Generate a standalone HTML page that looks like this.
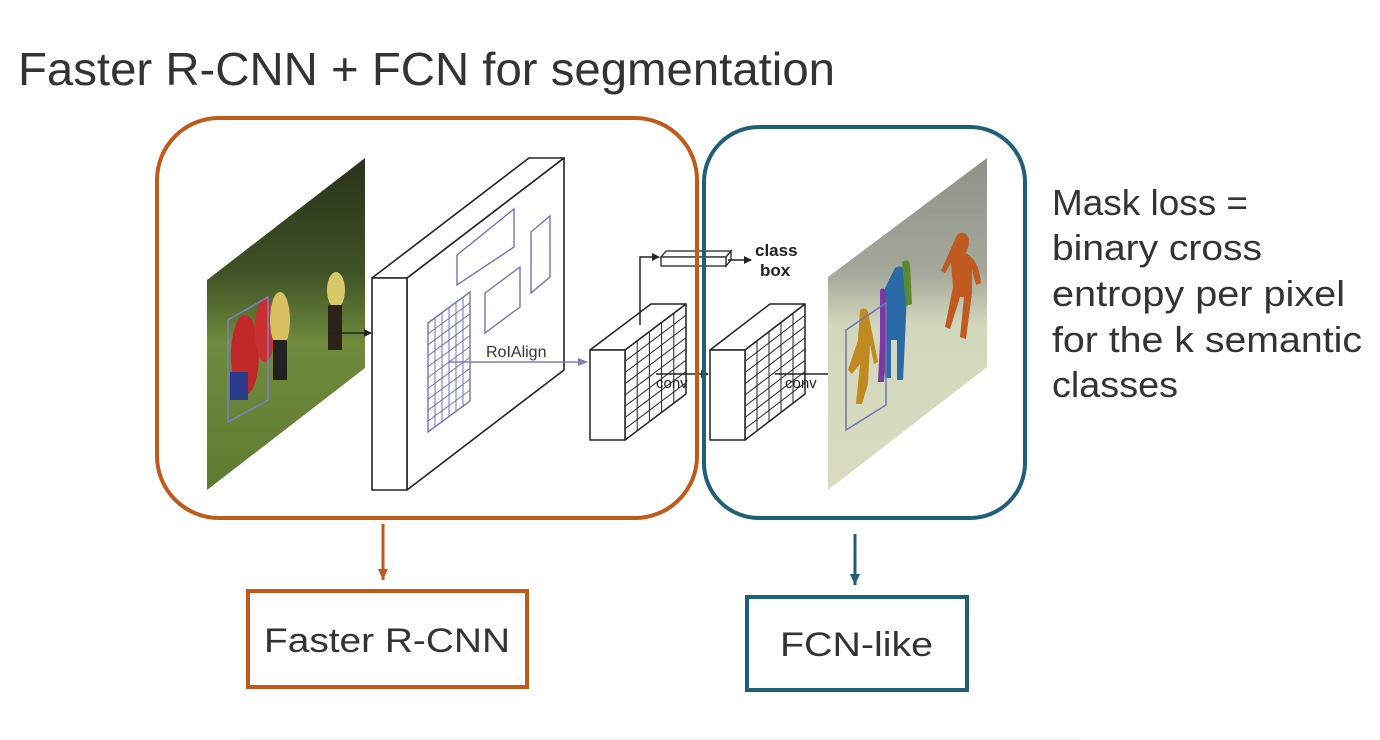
<!DOCTYPE html>
<html><head><meta charset="utf-8"><style>
html,body{margin:0;padding:0;background:#fff;}
svg{display:block;}
text{font-family:"Liberation Sans",sans-serif;}
</style></head><body>
<svg width="1380" height="740" viewBox="0 0 1380 740" xmlns="http://www.w3.org/2000/svg">
<defs>
<linearGradient id="g1" x1="0" y1="0" x2="0" y2="1">
<stop offset="0" stop-color="#27301a"/><stop offset="0.35" stop-color="#3f5226"/><stop offset="0.55" stop-color="#6f8a3c"/><stop offset="1" stop-color="#5e7a30"/></linearGradient>
<linearGradient id="g2" x1="0" y1="0" x2="0" y2="1">
<stop offset="0" stop-color="#8e9088"/><stop offset="0.35" stop-color="#a4a89a"/><stop offset="0.5" stop-color="#d2d8bc"/><stop offset="1" stop-color="#d9dcc0"/></linearGradient>
<clipPath id="c1"><polygon points="207,280 365,158 365,368 207,490"/></clipPath>
<clipPath id="c2"><polygon points="828,277 987,158 987,367 828,490"/></clipPath>
<marker id="ab" markerWidth="8" markerHeight="8" refX="7" refY="4" orient="auto" markerUnits="userSpaceOnUse"><path d="M0,0 L8,4 L0,8 z" fill="#222"/></marker>
<marker id="ap" markerWidth="10" markerHeight="10" refX="9" refY="5" orient="auto" markerUnits="userSpaceOnUse"><path d="M0,1 L10,5 L0,9 z" fill="#7a7fb8"/></marker>
<marker id="ao" markerWidth="12" markerHeight="12" refX="11" refY="6" orient="auto" markerUnits="userSpaceOnUse"><path d="M0,1 L11,6 L0,11 z" fill="#c0591a"/></marker>
<marker id="at" markerWidth="12" markerHeight="12" refX="11" refY="6" orient="auto" markerUnits="userSpaceOnUse"><path d="M0,1 L11,6 L0,11 z" fill="#1f5f78"/></marker>
</defs>

<text x="18" y="85" font-size="46" textLength="817" lengthAdjust="spacingAndGlyphs" fill="#333">Faster R-CNN + FCN for segmentation</text>

<g clip-path="url(#c1)">
<rect x="200" y="150" width="170" height="350" fill="url(#g1)"/>
<ellipse cx="245" cy="355" rx="14" ry="40" fill="#c0282a"/>
<ellipse cx="265" cy="330" rx="10" ry="32" fill="#c83030"/>
<ellipse cx="280" cy="320" rx="10" ry="28" fill="#d8c060"/>
<rect x="273" y="340" width="14" height="40" fill="#222"/>
<ellipse cx="336" cy="290" rx="9" ry="18" fill="#d8c868"/>
<rect x="328" y="305" width="14" height="45" fill="#2a2418"/>
<rect x="230" y="372" width="18" height="28" fill="#2a3a8a"/>
<polygon points="228,320 268,297 268,400 228,422" fill="none" stroke="#7a7fc8" stroke-width="1.5"/>
</g>
<line x1="328" y1="333" x2="371" y2="333" stroke="#222" stroke-width="1.5" marker-end="url(#ab)"/>

<g fill="#fff" stroke="#222" stroke-width="1.6" stroke-linejoin="round">
<polygon points="407,278 564,158 564,370 407,490"/>
<polygon points="372,278 407,278 564,158 529,158"/>
<rect x="372" y="278" width="35" height="212"/>
</g>
<g fill="none" stroke="#6f74b8" stroke-width="1.4">
<polygon points="457,255 514,209 514,247 457,285"/>
<polygon points="485,293 520,267 520,307 485,333"/>
<polygon points="531,232 550,216 550,277 531,293"/>
</g>
<g transform="matrix(42,-31,0,109,428,323)" stroke="#6f74b8" fill="none">
<rect x="0" y="0" width="1" height="1" vector-effect="non-scaling-stroke" stroke-width="1.4"/>
<path vector-effect="non-scaling-stroke" stroke-width="1" d="M0.1667,0V1M0.3333,0V1M0.5,0V1M0.6667,0V1M0.8333,0V1M0,0.1H1M0,0.2H1M0,0.3H1M0,0.4H1M0,0.5H1M0,0.6H1M0,0.7H1M0,0.8H1M0,0.9H1"/>
</g>
<line x1="449" y1="362" x2="587" y2="362" stroke="#7a7fb8" stroke-width="1.5" marker-end="url(#ap)"/>
<text x="486" y="357" font-size="16" fill="#333">RoIAlign</text>

<g fill="#fff" stroke="#222" stroke-width="1.5" stroke-linejoin="round">
<polygon points="625,350 686,304 686,394 625,440"/>
<polygon points="590,350 625,350 686,304 651,304"/>
<rect x="590" y="350" width="35" height="90"/>
</g>
<g transform="matrix(61,-46,0,90,625,350)" fill="none" stroke="#222">
<path vector-effect="non-scaling-stroke" stroke-width="1" d="M0.2,0V1M0.4,0V1M0.6,0V1M0.8,0V1M0,0.125H1M0,0.25H1M0,0.375H1M0,0.5H1M0,0.625H1M0,0.75H1M0,0.875H1"/>
</g>
<g fill="#fff" stroke="#222" stroke-width="1.5" stroke-linejoin="round">
<polygon points="745,350 805,304 805,394 745,440"/>
<polygon points="710,350 745,350 805,304 770,304"/>
<rect x="710" y="350" width="35" height="90"/>
</g>
<g transform="matrix(60,-46,0,90,745,350)" fill="none" stroke="#222">
<path vector-effect="non-scaling-stroke" stroke-width="1" d="M0.2,0V1M0.4,0V1M0.6,0V1M0.8,0V1M0,0.125H1M0,0.25H1M0,0.375H1M0,0.5H1M0,0.625H1M0,0.75H1M0,0.875H1"/>
</g>

<polyline points="640,325 640,257 659,257" fill="none" stroke="#222" stroke-width="1.5" marker-end="url(#ab)"/>
<g fill="#fff" stroke="#222" stroke-width="1.3">
<polygon points="661,257 666,251 731,251 726,257"/>
<polygon points="726,257 731,251 731,260 726,266"/>
<rect x="661" y="257" width="65" height="9"/>
</g>
<line x1="728" y1="260" x2="751" y2="260" stroke="#222" stroke-width="1.5" marker-end="url(#ab)"/>
<text x="755" y="256" font-size="17" font-weight="bold" fill="#222">class</text>
<text x="760" y="276" font-size="17" font-weight="bold" fill="#222">box</text>

<line x1="656" y1="374" x2="708" y2="374" stroke="#222" stroke-width="1.5" marker-end="url(#ab)"/>
<text x="656" y="388" font-size="15" fill="#222">conv</text>
<line x1="775" y1="374" x2="844" y2="374" stroke="#222" stroke-width="1.5" marker-end="url(#ab)"/>
<text x="785" y="388" font-size="15" fill="#222">conv</text>

<g clip-path="url(#c2)">
<rect x="820" y="150" width="175" height="350" fill="url(#g2)"/>
<path d="M957,235 q8,-6 12,4 q0,10 -4,14 q14,6 16,30 l-5,2 l-4,-16 l0,24 l-6,46 l-6,-2 l4,-40 l-4,0 l-10,32 l-5,-2 l8,-40 l-2,-24 l-6,10 l-4,-2 z" fill="#c05a20"/>
<path d="M895,268 q6,-4 10,2 l2,20 l-2,50 l-2,40 l-6,0 l0,-40 l-6,0 l0,38 l-6,0 l-2,-60 l2,-30 z" fill="#2a6aa8"/>
<path d="M902,262 q6,-4 8,2 l2,40 l-6,2 z" fill="#5a8a30"/>
<path d="M880,290 q4,-4 6,2 l2,40 l-4,50 l-6,0 l2,-40 z" fill="#7a3aa0"/>
<path d="M860,310 q5,-4 8,2 l4,20 l6,30 l-4,2 l-4,-20 l-2,40 l-6,20 l-6,0 l4,-40 l-8,10 l-4,-4 l10,-30 z" fill="#c08a20"/>
<polygon points="846,330 886,303 886,405 846,430" fill="none" stroke="#6f74b8" stroke-width="1.5"/>
</g>

<rect x="157" y="118" width="540" height="400" rx="62" fill="none" stroke="#c0591a" stroke-width="4"/>
<rect x="704" y="127" width="321" height="391" rx="55" fill="none" stroke="#1f5f78" stroke-width="4"/>

<line x1="383" y1="524" x2="383" y2="580" stroke="#c0591a" stroke-width="3" marker-end="url(#ao)"/>
<rect x="248" y="591" width="279" height="96" fill="none" stroke="#c0591a" stroke-width="4"/>
<text x="264" y="652" font-size="34" textLength="246" lengthAdjust="spacingAndGlyphs" fill="#333">Faster R-CNN</text>

<line x1="855" y1="534" x2="855" y2="585" stroke="#1f5f78" stroke-width="3" marker-end="url(#at)"/>
<rect x="747" y="597" width="220" height="93" fill="none" stroke="#1f5f78" stroke-width="4"/>
<text x="780" y="656" font-size="34" textLength="153" lengthAdjust="spacingAndGlyphs" fill="#333">FCN-like</text>

<g font-size="36" fill="#333">
<text x="1052" y="215" textLength="196" lengthAdjust="spacingAndGlyphs">Mask loss =</text>
<text x="1052" y="260" textLength="210" lengthAdjust="spacingAndGlyphs">binary cross</text>
<text x="1052" y="306" textLength="293" lengthAdjust="spacingAndGlyphs">entropy per pixel</text>
<text x="1052" y="352" textLength="310" lengthAdjust="spacingAndGlyphs">for the k semantic</text>
<text x="1052" y="397" textLength="126" lengthAdjust="spacingAndGlyphs">classes</text>
</g>
<line x1="240" y1="739" x2="1080" y2="739" stroke="#eee" stroke-width="1.5"/>
</svg>
</body></html>
